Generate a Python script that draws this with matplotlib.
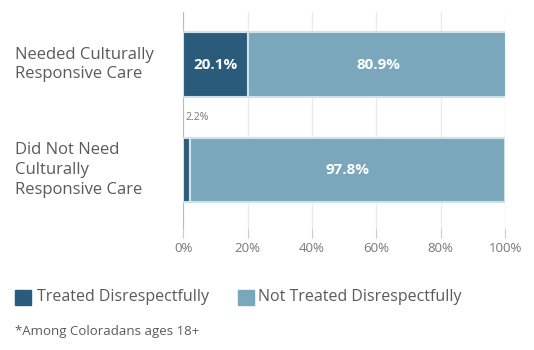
import matplotlib.pyplot as plt
import matplotlib.transforms as mtransforms
from matplotlib.patches import Rectangle

plt.rcParams['font.family'] = ['Open Sans', 'DejaVu Sans']

grupos = ['Needed Culturally\nResponsive Care', 'Did Not Need\nCulturally\nResponsive Care']
irrespeto = [20.1, 2.2]
no_irrespeto = [80.9, 97.8]
series = ['Treated Disrespectfully', 'Not Treated Disrespectfully']
ticks = [0, 20, 40, 60, 80, 100]

oscuro = '#2b5b7a'
claro = '#7aa7bb'
borde = '#cfe1ea'
gris = '#5a5a5a'

fig = plt.figure(figsize=(5.34, 3.5), dpi=100)
ax = fig.add_axes([0.343, 0.349, 0.603, 0.617])

y = list(range(len(grupos)))
b1 = ax.barh(y, irrespeto, height=0.61, color=oscuro, edgecolor=borde, linewidth=1.5, zorder=3)
b2 = ax.barh(y, no_irrespeto, left=irrespeto, height=0.61, color=claro, edgecolor=borde,
             linewidth=1.5, zorder=3)

ax.set_xlim(0, 100)
ax.set_ylim(1.55, -0.5)
ax.set_xticks(ticks)
ax.set_xticklabels([f'{t}%' for t in ticks], color='#777777', fontsize=9.5)
ax.set_yticks([])
ax.tick_params(axis='x', length=7, color='#cccccc', pad=3)
ax.grid(axis='x', color='#ebebeb', linewidth=1, zorder=0)
for s in ['top', 'right', 'bottom']:
    ax.spines[s].set_visible(False)
ax.spines['left'].set_color('#bbbbbb')

# etiquetas de grupo alineadas a la izquierda
trans = mtransforms.blended_transform_factory(fig.transFigure, ax.transData)
for i, g in enumerate(grupos):
    ax.text(15 / 534, i, g, transform=trans, ha='left', va='center', fontsize=12,
            color=gris, linespacing=1.3)

# valores dentro de las barras
for i in y:
    if irrespeto[i] > 10:
        ax.text(irrespeto[i] / 2, i, f'{irrespeto[i]}%', ha='center', va='center',
                color='white', fontsize=11, fontweight='bold', zorder=4)
    else:
        ax.text(0.6, i - 0.5, f'{irrespeto[i]}%', ha='left', va='center',
                color='#777777', fontsize=7.5, zorder=4)
    ax.text(irrespeto[i] + no_irrespeto[i] / 2, i, f'{no_irrespeto[i]}%', ha='center',
            va='center', color='white', fontsize=11, fontweight='bold', zorder=4)

# leyenda
fig.patches.append(Rectangle((15 / 534, 1 - 305 / 350), 16 / 534, 15 / 350,
                             transform=fig.transFigure, color=oscuro))
fig.text(37 / 534, 1 - 297 / 350, series[0], ha='left', va='center', fontsize=11.5, color=gris)
fig.patches.append(Rectangle((238 / 534, 1 - 305 / 350), 16 / 534, 15 / 350,
                             transform=fig.transFigure, color=claro))
fig.text(258 / 534, 1 - 297 / 350, series[1], ha='left', va='center', fontsize=11.5, color=gris)

fig.text(15 / 534, 1 - 331 / 350, '*Among Coloradans ages 18+', ha='left', va='center',
         fontsize=9.5, color=gris)

fig.savefig('out.png', dpi=100)
